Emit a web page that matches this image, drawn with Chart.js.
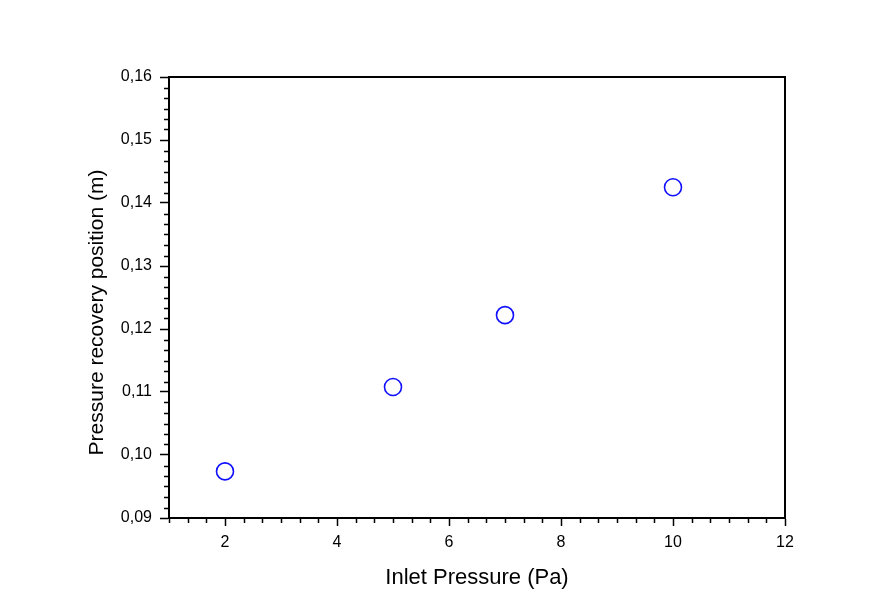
<!DOCTYPE html>
<html>
<head>
<meta charset="utf-8">
<script src="https://cdn.jsdelivr.net/npm/chart.js@4/dist/chart.umd.min.js"></script>
<style>
html,body{margin:0;padding:0;background:#fff;}
#wrap{width:896px;height:608px;}
</style>
</head>
<body>
<div id="wrap"><canvas id="c" width="896" height="608"></canvas></div>
<script>
const inletPressure = [2, 5, 7, 10];
const recoveryPosition = [0.0974, 0.1108, 0.1222, 0.1425];
const xMajorTicks = [2, 4, 6, 8, 10, 12];
const yMajorTicks = [0.09, 0.10, 0.11, 0.12, 0.13, 0.14, 0.15, 0.16];
const xRange = [1, 12];
const yRange = [0.09, 0.16];
const xTitle = 'Inlet Pressure (Pa)';
const yTitle = 'Pressure recovery position (m)';
const xMinorPerMajor = 6;
const yMinorPerMajor = 6;

const FONT = "'Liberation Sans', Arial, sans-serif";

const frameAndMinor = {
  id: 'frameAndMinor',
  afterDraw(chart) {
    const {ctx, chartArea: a, scales} = chart;
    const xs = scales.x, ys = scales.y;
    ctx.save();
    ctx.strokeStyle = '#000';
    ctx.lineWidth = 1.5;
    const xStep = 2 / xMinorPerMajor;
    for (let i = 0; ; i++) {
      const v = xRange[0] + i * xStep;
      if (v > xRange[1] + 1e-9) break;
      if (xMajorTicks.some(t => Math.abs(t - v) < 1e-6)) continue;
      const px = Math.round(xs.getPixelForValue(v)) + 0.5;
      ctx.beginPath();
      ctx.moveTo(px, a.bottom);
      ctx.lineTo(px, a.bottom + 5);
      ctx.stroke();
    }
    const yStep = 0.01 / yMinorPerMajor;
    for (let i = 0; ; i++) {
      const v = yRange[0] + i * yStep;
      if (v > yRange[1] + 1e-9) break;
      if (yMajorTicks.some(t => Math.abs(t - v) < 1e-7)) continue;
      const py = Math.round(ys.getPixelForValue(v)) + 0.5;
      ctx.beginPath();
      ctx.moveTo(a.left, py);
      ctx.lineTo(a.left - 5, py);
      ctx.stroke();
    }
    ctx.lineWidth = 2;
    ctx.strokeRect(a.left, a.top, a.right - a.left, a.bottom - a.top);
    // y-axis title
    ctx.fillStyle = '#000';
    ctx.font = '21px ' + FONT;
    ctx.translate(102.5, (a.top + a.bottom) / 2 + 15);
    ctx.rotate(-Math.PI / 2);
    ctx.textAlign = 'center';
    ctx.textBaseline = 'alphabetic';
    ctx.fillText(yTitle, 0, 0);
    ctx.restore();
  }
};

new Chart(document.getElementById('c'), {
  type: 'scatter',
  data: {
    datasets: [{
      data: inletPressure.map((x, i) => ({x: x, y: recoveryPosition[i]})),
      pointStyle: 'circle',
      pointRadius: 8.5,
      pointHoverRadius: 8.5,
      pointBorderWidth: 1.6,
      pointBorderColor: '#1010ff',
      pointBackgroundColor: 'rgba(0,0,0,0)',
      showLine: false
    }]
  },
  options: {
    responsive: false,
    animation: false,
    events: [],
    layout: {padding: {left: 0, right: 111, top: 77, bottom: 0}},
    plugins: {legend: {display: false}, tooltip: {enabled: false}},
    scales: {
      x: {
        type: 'linear',
        min: xRange[0], max: xRange[1],
        afterBuildTicks: s => { s.ticks = xMajorTicks.map(v => ({value: v})); },
        afterFit: s => { s.height = 90; },
        grid: {drawOnChartArea: false, drawTicks: true, tickLength: 8, tickColor: '#000', tickWidth: 1.5},
        border: {display: true, color: '#000', width: 2},
        ticks: {color: '#000', font: {family: FONT, size: 16}, padding: 7, maxRotation: 0,
                callback: v => String(v)},
        title: {display: true, text: xTitle, color: '#000',
                font: {family: FONT, size: 22}, padding: {top: 0, bottom: 17}}
      },
      y: {
        type: 'linear',
        min: yRange[0], max: yRange[1],
        afterBuildTicks: s => { s.ticks = yMajorTicks.map(v => ({value: v})); },
        afterFit: s => { s.width = 169; },
        grid: {drawOnChartArea: false, drawTicks: true, tickLength: 9, tickColor: '#000', tickWidth: 1.5},
        border: {display: true, color: '#000', width: 2},
        ticks: {color: '#000', font: {family: FONT, size: 16}, padding: 8,
                callback: v => v.toFixed(2).replace('.', ',')},
        title: {display: false}
      }
    }
  },
  plugins: [frameAndMinor]
});
</script>
</body>
</html>
